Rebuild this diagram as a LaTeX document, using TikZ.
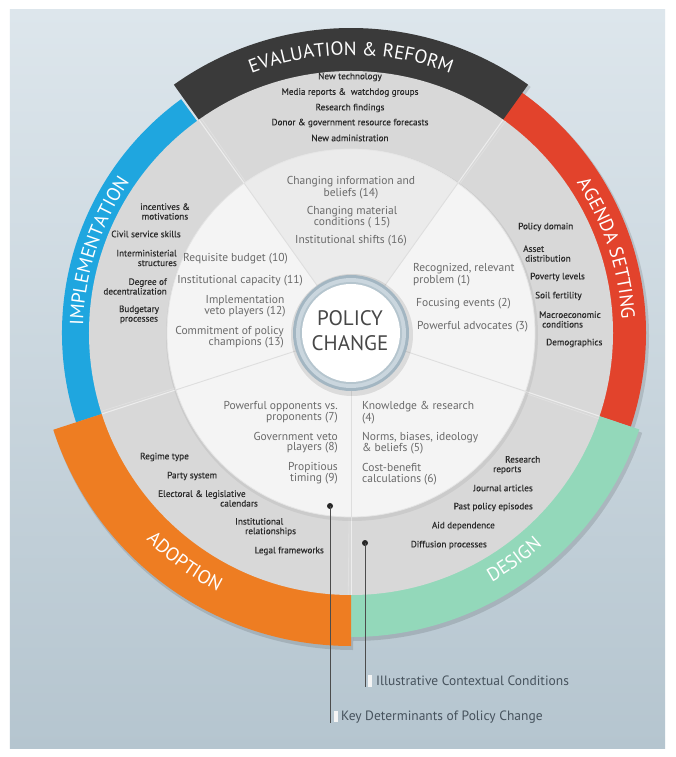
\documentclass[tikz,border=0pt]{standalone}
\usepackage{fontspec}
\setmainfont{PT Sans}
\newfontfamily\ctxfamily[FakeBold=0.35]{PT Sans}
\usetikzlibrary{decorations.text}
\definecolor{bgA}{HTML}{DDE6EC}
\definecolor{bgB}{HTML}{B5C5CF}
\definecolor{evalc}{HTML}{3A3A3A}
\definecolor{agendac}{HTML}{E2432C}
\definecolor{designc}{HTML}{93D8BA}
\definecolor{adoptc}{HTML}{EE7D22}
\definecolor{implc}{HTML}{1FA6DF}
\definecolor{ringgray}{HTML}{D8D8D8}
\definecolor{innerw}{HTML}{F4F4F4}
\definecolor{innertop}{HTML}{EBEBEB}
\definecolor{ctxtext}{HTML}{2A2A2A}
\definecolor{dettext}{HTML}{6A6A6A}
\definecolor{legtext}{HTML}{46525C}
\definecolor{cringA}{HTML}{A3B6C2}
\definecolor{cringB}{HTML}{CAD6DE}
\newcommand\bandfont{\fontsize{19}{19}\selectfont}
\newcommand\bandseg[5]{\fill[#1] (#2:#4pt) arc[start angle=#2, end angle=#3, radius=#4pt] -- (#3:#5pt) arc[start angle=#3, end angle=#2, radius=#5pt] -- cycle;}
\begin{document}
\begin{tikzpicture}[x=1pt,y=1pt,
  ctx/.style={font=\ctxfamily\fontsize{9.2}{9.6}\selectfont, text=ctxtext, inner sep=0pt},
  det/.style={font=\fontsize{11.5}{10.6}\selectfont, text=dettext, inner sep=0pt},
  leg/.style={font=\fontsize{13.5}{14}\selectfont, text=legtext, inner sep=0pt, anchor=west},
  legdot/.style={circle, fill=black!85, inner sep=0pt, minimum size=6pt},
  legline/.style={draw=black!70, line width=0.8pt},
  legbar/.style={fill=white!92!gray, draw=none},
  divw/.style={draw=white, line width=1pt, opacity=0.55},
  divd/.style={draw=black!12, line width=0.8pt}]
\useasboundingbox (-351,-424) rectangle (324,333);
\fill[white] (-351,-424) rectangle (324,333);
\shade[top color=bgA, bottom color=bgB] (-341,-415) rectangle (314,323);
% soft shadows of the bands
\begin{scope}[shift={(2,-3)}, opacity=0.12]
\bandseg{black}{126}{198}{255}{290}
\bandseg{black}{-18.5}{55}{255}{296}
\bandseg{black}{-90}{-18.5}{255}{305}
\bandseg{black}{198}{270}{255}{314}
\bandseg{black}{54.5}{125.5}{255}{306}
\end{scope}
% outer bands
\bandseg{implc}{126}{198}{261}{289}
\bandseg{agendac}{-18.5}{55}{261}{295}
\bandseg{designc}{-90}{-18.5}{261}{304}
\bandseg{adoptc}{198}{270}{261}{313}
\bandseg{evalc}{54.5}{125.5}{261}{305}
% gray ring
\fill[ringgray] (0,0) circle[radius=262pt];
\foreach \a in {54.5,125.5,198,270,-18.5} {
  \draw[divd] (\a-0.6:184pt) -- (\a-0.6:262pt);
  \draw[divw] (\a:184pt) -- (\a:262pt);
}
% inner white disk
\fill[black, opacity=0.06] (1,-2) circle[radius=186pt];
\fill[innerw] (0,0) circle[radius=184pt];
\fill[innertop] (0,0) -- (54.5:184pt) arc[start angle=54.5, end angle=125.5, radius=184pt] -- cycle;
\draw[black!10, line width=0.8pt] (0,0) circle[radius=184pt];
\foreach \a in {54.5,125.5,198,270,-18.5} {
  \draw[black!13, line width=0.9pt] (\a:58pt) -- (\a:184pt);
}
% central circle
\fill[black, opacity=0.10] (1,-2) circle[radius=61pt];
\fill[cringA] (0,0) circle[radius=58pt];
\fill[cringB] (0,0) circle[radius=55pt];
\fill[cringA!80!white] (0,0) circle[radius=51pt];
\fill[white] (0,0) circle[radius=49pt];
% band labels
\path[decorate, decoration={text along path, text align=center, text color=white,
  text={|\bandfont|EVALUATION {\&} REFORM}}]
  (125.5:278pt) arc[start angle=125.5, end angle=54.5, radius=278pt];
\path[decorate, decoration={text along path, text align=center, text color=white,
  text={|\bandfont|IMPLEMENTATION}}]
  (198:268pt) arc[start angle=198, end angle=126, radius=268pt];
\path[decorate, decoration={text along path, text align=center, text color=white,
  text={|\bandfont|AGENDA SETTING}}]
  (55:271pt) arc[start angle=55, end angle=-18.5, radius=271pt];
\path[decorate, decoration={text along path, text align=center, text color=white,
  text={|\bandfont|DESIGN}}]
  (-90:286pt) arc[start angle=-90, end angle=-18.5, radius=286pt];
\path[decorate, decoration={text along path, text align=center, text color=white,
  text={|\bandfont|ADOPTION}}]
  (198:291pt) arc[start angle=198, end angle=270, radius=291pt];
% texts in image coordinates
\begin{scope}[yscale=-1, shift={(-351,-333)}]
\node[font=\fontsize{21}{25}\selectfont, text=black!72, align=center, inner sep=0pt] (center) at (350,331) {POLICY\\CHANGE};
% evaluation context
\node[ctx] (e1) at (350,77) {New technology};
\node[ctx] (e2) at (350,92.5) {Media reports \&~ watchdog groups};
\node[ctx] (e3) at (350,108) {Research findings};
\node[ctx] (e4) at (350,123) {Donor \& government resource forecasts};
\node[ctx] (e5) at (350,138) {New administration};
% implementation context
\node[ctx, align=center] (i1) at (165,211.5) {incentives \&\\motivations};
\node[ctx] (i2) at (146,234) {Civil service skills};
\node[ctx, align=right, anchor=east] (i3) at (177,258) {Interministerial\\structures};
\node[ctx, align=right, anchor=east] (i4) at (167,286.5) {Degree of\\decentralization};
\node[ctx, align=center] (i5) at (139,314.5) {Budgetary\\processes};
% agenda context
\node[ctx, anchor=west] (a1) at (518,227) {Policy domain};
\node[ctx, align=left, anchor=west] (a2) at (523,253.5) {Asset\\\hspace*{2pt}distribution};
\node[ctx, anchor=west] (a3) at (530,277) {Poverty levels};
\node[ctx, anchor=west] (a4) at (535,296) {Soil fertility};
\node[ctx, align=left, anchor=west] (a5) at (539,319.5) {Macroeconomic\\\hspace*{3pt}conditions};
\node[ctx, anchor=west] (a6) at (546,343) {Demographics};
% design context
\node[ctx, align=left, anchor=west] (d1) at (493,465) {\hspace*{12pt}Research\\reports};
\node[ctx, anchor=east] (d2) at (533,488) {Journal articles};
\node[ctx, anchor=east] (d3) at (533,507) {Past policy episodes};
\node[ctx, anchor=east] (d4) at (495,526) {Aid dependence};
\node[ctx, anchor=east] (d5) at (487,545) {Diffusion processes};
% adoption context
\node[ctx, anchor=west] (o1) at (140,457) {Regime type};
\node[ctx, anchor=west] (o2) at (167,476) {Party system};
\node[ctx, align=left, anchor=west] (o3) at (158,498.5) {Electoral \& legislative\\\hspace*{62pt}calendars};
\node[ctx, align=left, anchor=west] (o4) at (235,527) {Institutional\\\hspace*{10pt}relationships};
\node[ctx, anchor=east] (o5) at (324,551) {Legal frameworks};
% determinants top
\node[det, align=center] (t1) at (351,187.5) {Changing information and\\beliefs (14)};
\node[det, align=center] (t2) at (352,217) {Changing material\\conditions ( 15)};
\node[det] (t3) at (351,241) {Institutional shifts (16)};
% determinants implementation
\node[det, anchor=east] (m1) at (288,259) {Requisite budget (10)};
\node[det, anchor=east] (m2) at (303,281) {Institutional capacity (11)};
\node[det, align=center] (m3) at (245,306) {Implementation\\veto players (12)};
\node[det, align=right, anchor=east] (m4) at (284,337) {Commitment of policy\\champions (13)};
% determinants agenda
\node[det, align=left, anchor=west] (g1) at (413,275) {Recognized, relevant\\problem (1)};
\node[det, anchor=west] (g2) at (416,304) {Focusing events (2)};
\node[det, anchor=west] (g3) at (417,327) {Powerful advocates (3)};
% determinants adoption
\node[det, align=right, anchor=east] (p1) at (338,412) {Powerful opponents vs.\\proponents (7)};
\node[det, align=right, anchor=east] (p2) at (338,442.5) {Government veto\\players (8)};
\node[det, align=right, anchor=east] (p3) at (338,473) {Propitious\\timing (9)};
% determinants design
\node[det, align=left, anchor=west] (k1) at (362,412.5) {Knowledge \& research\\(4)};
\node[det, align=left, anchor=west] (k2) at (362,443) {Norms, biases, ideology\\\& beliefs (5)};
\node[det, align=left, anchor=west] (k3) at (362,474) {Cost-benefit\\calculations (6)};
% legend
\node[legdot] (dotK) at (330,506) {};
\coordinate (endK) at (330,723);
\draw[legline] (dotK.center) -- (endK);
\fill[legbar] (334,711) rectangle (337.5,722);
\node[leg] (legK) at (341,717) {Key Determinants of Policy Change};
\node[legdot] (dotI) at (365,543) {};
\coordinate (endI) at (365,687);
\draw[legline] (dotI.center) -- (endI);
\fill[legbar] (368,675) rectangle (372,687);
\node[leg] (legI) at (376,681) {Illustrative Contextual Conditions};
\end{scope}
\end{tikzpicture}
\end{document}
